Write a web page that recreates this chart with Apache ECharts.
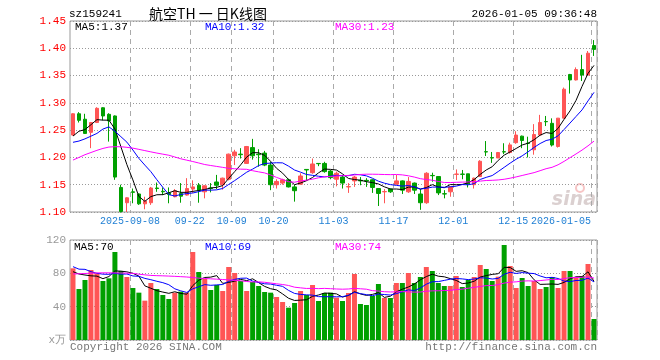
<!DOCTYPE html>
<html><head><meta charset="utf-8">
<script src="https://cdn.jsdelivr.net/npm/echarts@6/dist/echarts.min.js"></script>
<style>html,body{margin:0;padding:0;background:#fff}#c{width:660px;height:360px}</style>
</head><body><div id="c"></div>
<script>
// ---------- data ----------
const dates = [
 '2025-08-25','2025-08-26','2025-08-27','2025-08-28','2025-08-29',
 '2025-09-01','2025-09-02','2025-09-03','2025-09-04','2025-09-05',
 '2025-09-08','2025-09-09','2025-09-10','2025-09-11','2025-09-12',
 '2025-09-15','2025-09-16','2025-09-17','2025-09-18','2025-09-19',
 '2025-09-22','2025-09-23','2025-09-24','2025-09-25','2025-09-26',
 '2025-09-29','2025-09-30','2025-10-09','2025-10-10',
 '2025-10-13','2025-10-14','2025-10-15','2025-10-16','2025-10-17',
 '2025-10-20','2025-10-21','2025-10-22','2025-10-23','2025-10-24',
 '2025-10-27','2025-10-28','2025-10-29','2025-10-30','2025-10-31',
 '2025-11-03','2025-11-04','2025-11-05','2025-11-06','2025-11-07',
 '2025-11-10','2025-11-11','2025-11-12','2025-11-13','2025-11-14',
 '2025-11-17','2025-11-18','2025-11-19','2025-11-20','2025-11-21',
 '2025-11-24','2025-11-25','2025-11-26','2025-11-27','2025-11-28',
 '2025-12-01','2025-12-02','2025-12-03','2025-12-04','2025-12-05',
 '2025-12-08','2025-12-09','2025-12-10','2025-12-11','2025-12-12',
 '2025-12-15','2025-12-16','2025-12-17','2025-12-18','2025-12-19',
 '2025-12-22','2025-12-23','2025-12-24','2025-12-25','2025-12-26',
 '2025-12-29','2025-12-30','2025-12-31','2026-01-05'
];
const opens = [1.241,1.280,1.270,1.246,1.264,1.291,1.279,1.276,1.145,1.117,
 1.137,1.133,1.115,1.117,1.144,1.138,1.135,1.128,1.134,1.131,
 1.142,1.149,1.137,1.144,1.155,1.150,1.160,1.203,1.206,1.189,
 1.218,1.206,1.208,1.186,1.150,1.153,1.159,1.146,1.151,1.178,
 1.172,1.189,1.189,1.175,1.160,1.164,1.146,1.157,1.158,1.158,
 1.159,1.143,1.137,1.142,1.151,1.157,1.137,1.153,1.133,1.117,
 1.167,1.165,1.1335,1.137,1.169,1.1695,1.170,1.150,1.165,1.2105,
 1.1995,1.199,1.2105,1.209,1.227,1.239,1.2262,1.214,1.241,1.2658,
 1.2625,1.220,1.272,1.352,1.342,1.361,1.351,1.405];
const closes = [1.280,1.268,1.244,1.264,1.290,1.276,1.267,1.164,1.101,1.126,
 1.136,1.115,1.120,1.144,1.143,1.137,1.132,1.139,1.129,1.143,
 1.146,1.140,1.148,1.143,1.149,1.162,1.206,1.210,1.205,1.220,
 1.203,1.205,1.186,1.150,1.156,1.159,1.146,1.139,1.166,1.177,
 1.188,1.1885,1.174,1.163,1.171,1.153,1.1465,1.164,1.157,1.157,
 1.145,1.134,1.1375,1.137,1.157,1.140,1.156,1.140,1.117,1.171,
 1.1665,1.135,1.133,1.146,1.1695,1.169,1.151,1.162,1.193,1.210,
 1.199,1.209,1.210,1.223,1.241,1.231,1.2255,1.242,1.264,1.2654,
 1.2227,1.272,1.325,1.342,1.361,1.351,1.391,1.398];
const lows = [1.240,1.264,1.243,1.217,1.263,1.268,1.229,1.159,1.099,1.100,
 1.116,1.113,1.105,1.113,1.137,1.131,1.116,1.127,1.117,1.130,
 1.135,1.117,1.125,1.136,1.142,1.141,1.158,1.186,1.198,1.188,
 1.196,1.183,1.184,1.140,1.143,1.150,1.145,1.119,1.150,1.158,
 1.170,1.184,1.172,1.160,1.147,1.143,1.135,1.146,1.149,1.146,
 1.135,1.111,1.116,1.135,1.150,1.133,1.135,1.133,1.104,1.115,
 1.1555,1.131,1.125,1.128,1.1585,1.160,1.145,1.143,1.164,1.2026,
 1.190,1.199,1.206,1.207,1.225,1.217,1.200,1.205,1.240,1.2575,
 1.220,1.218,1.271,1.317,1.341,1.340,1.350,1.386];
const highs = [1.281,1.283,1.280,1.265,1.292,1.292,1.281,1.277,1.150,1.127,
 1.143,1.134,1.128,1.146,1.154,1.145,1.145,1.142,1.153,1.162,
 1.158,1.153,1.149,1.153,1.168,1.163,1.207,1.214,1.217,1.221,
 1.234,1.215,1.212,1.192,1.160,1.161,1.161,1.150,1.171,1.178,
 1.198,1.1895,1.192,1.177,1.174,1.168,1.153,1.166,1.164,1.162,
 1.160,1.144,1.142,1.143,1.168,1.158,1.164,1.154,1.142,1.173,
 1.172,1.1655,1.140,1.147,1.178,1.177,1.170,1.163,1.195,1.230,
 1.210,1.210,1.226,1.227,1.248,1.240,1.238,1.261,1.278,1.276,
 1.2716,1.272,1.328,1.353,1.365,1.388,1.395,1.415];
const volumes = [86,61.2,72,84,80,70.8,74,105.6,82.8,75.6,
 62.4,56.8,47.2,68.4,61.2,54,49.2,56.8,58,56.8,
 105.6,81.6,73.2,60,66,58.8,87.6,80.4,70.8,58.8,
 69.6,64.8,57.6,56.8,51.6,45.6,38.8,44.4,58.8,54,
 66,46.8,56.4,56.8,50.8,46.8,56.4,79.2,43.2,42,
 52.8,67.2,50.4,50.4,68.4,68.4,80.4,68.4,75.6,87.6,
 82.8,68.4,64.8,64.8,76.8,63.6,72,75.6,90,85.2,
 70.8,76,114,88.8,62.4,74.4,64.8,70.8,61.2,63.6,
 75.6,62.4,82.8,82.8,75.6,76.8,91.2,25.2];
// moving-average values before enough in-window history exists
const ma5Head = [1.2392,1.2480,1.2510,1.2600];
const ma10Head = [1.2277,1.2300,1.2340,1.2390,1.2440,1.2520,1.2560,1.2480,1.2380];
const ma30Head = [1.1952,1.2000,1.2050,1.2090,1.2130,1.2165,1.2190,1.2196,1.2196,1.2185,
 1.2170,1.2148,1.2125,1.2102,1.2080,1.2060,1.2040,1.2008,1.1975,1.1950,
 1.1925,1.1898,1.1870,1.1852,1.1835,1.1818,1.1800,1.1792,1.1785];
const vma5Head = [82,79.2,78,77];
const vma10Head = [88,85,84.8,82,80,79,78.8,80,79];
const vma30Head = [79.2,79.5,79.8,80.2,80.5,80.6,80.6,80.5,80.4,80.2,
 80,79,78.2,77.5,77.2,77,76.7,76.4,76,75.6,
 75,74.2,73.8,73.4,73,72.6,72.2,71.6,71];
const tickDates = ['2025-09-08','2025-09-22','2025-10-09','2025-10-20','2025-11-03','2025-11-17','2025-12-01','2025-12-15'];
const tickTexts = ['2025-09-08','09-22','10-09','10-20','11-03','11-17','12-01','12-15'];
const lastTickDate = '2026-01-05';
const headerTexts = {code:'sz159241', title:'航空TH 一 日K线图', time:'2026-01-05 09:36:48'};
const priceLegend = ['MA5:1.37','MA10:1.32','MA30:1.23'];
const volLegend = ['MA5:70','MA10:69','MA30:74'];

// ---------- build ----------
function ma(arr, n, head){
  return arr.map((v,i)=>{
    if(i < n-1) return head[i];
    let s=0; for(let k=i-n+1;k<=i;k++) s+=arr[k]; return s/n;
  });
}
const UP='#ff5555', DOWN='#00a000';
const MONO='"Liberation Mono", "DejaVu Sans Mono", monospace';
const ohlc = dates.map((d,i)=>[opens[i],closes[i],lows[i],highs[i]]);
const tickIdx = tickDates.map(d=>dates.indexOf(d));
const lastIdx = dates.indexOf(lastTickDate);
const gridIdx = tickIdx.concat([lastIdx]);
const textOf = {}; tickDates.forEach((d,k)=>textOf[d]=tickTexts[k]);
const vSplit = {show:true, interval:(i)=>gridIdx.indexOf(i)>=0, lineStyle:{color:'#aaaaaa', width:1, type:[5,4]}};
const noAxis = {axisLine:{show:false}, axisTick:{show:false}};

const chart = echarts.init(document.getElementById('c'), null, {renderer:'canvas'});
chart.setOption({
  animation:false,
  backgroundColor:'#fff',
  grid:[
    {left:70, top:21, width:527, height:191, show:true, borderColor:'#999', borderWidth:1},
    {left:70, top:240, width:527, height:100, show:true, borderColor:'#999', borderWidth:1}
  ],
  xAxis:[
    Object.assign({type:'category', gridIndex:0, data:dates, boundaryGap:true,
      axisLabel:{interval:(i)=>tickIdx.indexOf(i)>=0, formatter:(v)=>textOf[v]||'', color:'#1f7fd4',
        fontFamily:MONO, fontSize:10, margin:4, padding:[0,6,0,0]},
      splitLine:vSplit}, noAxis),
    Object.assign({type:'category', gridIndex:0, data:dates, boundaryGap:true, position:'bottom',
      axisLabel:{interval:(i)=>i===lastIdx, formatter:(v)=>v, color:'#1f7fd4', align:'right',
        fontFamily:MONO, fontSize:10, margin:4, padding:[0,3,0,0]},
      splitLine:{show:false}}, noAxis),
    Object.assign({type:'category', gridIndex:1, data:dates, boundaryGap:true,
      axisLabel:{show:false}, splitLine:vSplit}, noAxis)
  ],
  yAxis:[
    Object.assign({type:'value', gridIndex:0, min:1.10, max:1.45, interval:0.05, scale:true,
      axisLabel:{color:'#ff0000', formatter:(v)=>v.toFixed(2), fontFamily:MONO, fontSize:11, margin:4},
      splitLine:{show:true, lineStyle:{color:'#999', width:1, type:[1,2]}}}, noAxis),
    Object.assign({type:'value', gridIndex:1, min:0, max:120, interval:40,
      axisLabel:{color:'#999', formatter:(v)=>v===0?'x万':String(v), fontFamily:MONO, fontSize:11, margin:4},
      splitLine:{show:true, lineStyle:{color:'#999', width:1, type:[1,2]}}}, noAxis)
  ],
  series:[
    {type:'candlestick', xAxisIndex:0, yAxisIndex:0, data:ohlc, barWidth:4,
      itemStyle:{color:UP, color0:DOWN, borderColor:UP, borderColor0:DOWN, borderWidth:1}},
    {type:'line', xAxisIndex:0, yAxisIndex:0, data:ma(closes,5,ma5Head), symbol:'none', silent:true, lineStyle:{color:'#000', width:1}},
    {type:'line', xAxisIndex:0, yAxisIndex:0, data:ma(closes,10,ma10Head), symbol:'none', silent:true, lineStyle:{color:'#0000ff', width:1}},
    {type:'line', xAxisIndex:0, yAxisIndex:0, data:ma(closes,30,ma30Head), symbol:'none', silent:true, lineStyle:{color:'#ff00ff', width:1}},
    {type:'bar', xAxisIndex:2, yAxisIndex:1, barWidth:5,
      data:volumes.map((v,i)=>({value:v, itemStyle:{color: closes[i]>=opens[i]?UP:DOWN}}))},
    {type:'line', xAxisIndex:2, yAxisIndex:1, data:ma(volumes,5,vma5Head), symbol:'none', silent:true, lineStyle:{color:'#000', width:1}},
    {type:'line', xAxisIndex:2, yAxisIndex:1, data:ma(volumes,10,vma10Head), symbol:'none', silent:true, lineStyle:{color:'#0000ff', width:1}},
    {type:'line', xAxisIndex:2, yAxisIndex:1, data:ma(volumes,30,vma30Head), symbol:'none', silent:true, lineStyle:{color:'#ff00ff', width:1}}
  ],
  graphic:[
    {type:'text', x:69, y:14, style:{text:headerTexts.code, fill:'#000', font:'11px '+MONO, verticalAlign:'middle'}},
    {type:'text', x:149, y:14, style:{text:headerTexts.title, fill:'#000', font:'14px "Noto Sans CJK SC"', verticalAlign:'middle'}},
    {type:'text', x:597, y:14, style:{text:headerTexts.time, fill:'#000', font:'11px '+MONO, align:'right', verticalAlign:'middle'}},
    {type:'text', x:75, y:27, style:{text:priceLegend[0], fill:'#000', font:'11px '+MONO, verticalAlign:'middle'}},
    {type:'text', x:205, y:27, style:{text:priceLegend[1], fill:'#0000ff', font:'11px '+MONO, verticalAlign:'middle'}},
    {type:'text', x:335, y:27, style:{text:priceLegend[2], fill:'#ff00ff', font:'11px '+MONO, verticalAlign:'middle'}},
    {type:'text', x:74, y:247, style:{text:volLegend[0], fill:'#000', font:'11px '+MONO, verticalAlign:'middle'}},
    {type:'text', x:205, y:247, style:{text:volLegend[1], fill:'#0000ff', font:'11px '+MONO, verticalAlign:'middle'}},
    {type:'text', x:335, y:247, style:{text:volLegend[2], fill:'#ff00ff', font:'11px '+MONO, verticalAlign:'middle'}},
    {type:'text', x:70, y:347, style:{text:'Copyright 2026 SINA.COM', fill:'#777', font:'11px '+MONO, verticalAlign:'middle'}},
    {type:'text', x:597, y:347, style:{text:'http://finance.sina.com.cn', fill:'#777', font:'11px '+MONO, align:'right', verticalAlign:'middle'}},
    {type:'circle', z:-1, shape:{cx:580, cy:188, r:4}, style:{fill:'none', stroke:'rgba(240,140,140,0.5)', lineWidth:2}},
    {type:'text', x:596, y:200, z:-1, style:{text:'sina', fill:'rgba(190,170,170,0.55)', font:'italic bold 19px "DejaVu Sans"', align:'right', verticalAlign:'middle'}}
  ]
});
</script></body></html>
